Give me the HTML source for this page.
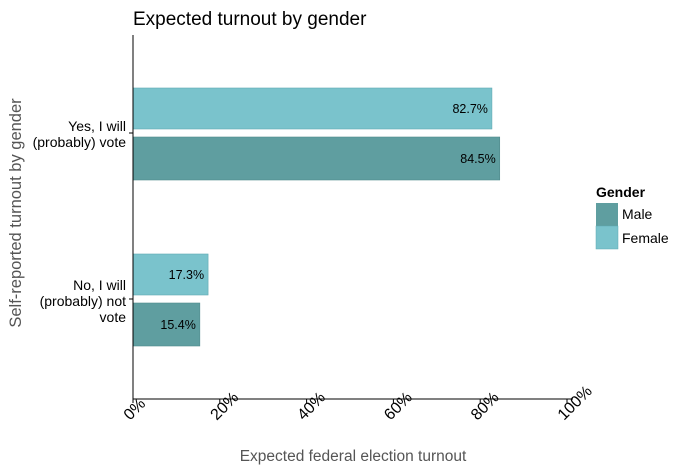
<!DOCTYPE html>
<html><head><meta charset="utf-8"><style>body{margin:0;background:#fff}svg{display:block;font-family:"Liberation Sans",Arial,sans-serif}</style></head>
<body>
<svg id="chart" width="686" height="471">
<text x="133" y="25" font-size="19" fill="#000">Expected turnout by gender</text>
<g id="plot"></g>
<text x="353" y="461" font-size="15.5" fill="#555" text-anchor="middle">Expected federal election turnout</text>
<text transform="translate(21,213) rotate(-90)" font-size="16.5" fill="#555" text-anchor="middle">Self-reported turnout by gender</text>
<g>
<text x="596" y="197" font-size="14" font-weight="bold">Gender</text>
<rect x="596" y="203" width="22" height="23" fill="#5f9ea0"/>
<text x="622" y="219" font-size="14">Male</text>
<rect x="596" y="226" width="22" height="23" fill="#7ac3cc" stroke="#5fa9b2" stroke-width="0.5"/>
<text x="622" y="243" font-size="14">Female</text>
</g>
</svg>
<script>
const categories = ["Yes, I will (probably) vote", "No, I will (probably) not vote"];
const femaleValues = [82.7, 17.3];
const maleValues = [84.5, 15.4];
const tickValues = [0, 20, 40, 60, 80, 100];
const tickLabels = ["0%", "20%", "40%", "60%", "80%", "100%"];

const NS = "http://www.w3.org/2000/svg";
const g = document.getElementById("plot");
const x0 = 133, xw = 434;
const xs = v => x0 + v / 100 * xw;
const catY = [133, 299];
function mk(tag, attrs, parent) { const e = document.createElementNS(NS, tag); for (const k in attrs) e.setAttribute(k, attrs[k]); (parent || g).appendChild(e); return e; }

categories.forEach((c, i) => {
  const yc = catY[i];
  const f = mk("rect", {x: x0, y: yc - 45, width: xs(femaleValues[i]) - x0, height: 41, fill: "#7ac3cc", stroke: "#5fa9b2", "stroke-width": 0.6});
  
  
  const m = mk("rect", {x: x0, y: yc + 4, width: xs(maleValues[i]) - x0, height: 43, fill: "#5f9ea0", stroke: "#4f8a8c", "stroke-width": 0.6});
  
  
  const ft = mk("text", {x: xs(femaleValues[i]) - 4, y: yc - 20, "font-size": 12.5, "text-anchor": "end"});
  ft.textContent = femaleValues[i].toFixed(1) + "%";
  
  
  const mt = mk("text", {x: xs(maleValues[i]) - 4, y: yc + 30, "font-size": 12.5, "text-anchor": "end"});
  mt.textContent = maleValues[i].toFixed(1) + "%";
  
  
  const tk = mk("line", {x1: x0 - 4, x2: x0, y1: yc, y2: yc, stroke: "#000"});
  
  
});
const lab = [["Yes, I will", "(probably) vote"], ["No, I will", "(probably) not", "vote"]];
lab.forEach((lines, i) => {
  const t = mk("text", {"font-size": 14, "text-anchor": "end"});
  
  
  const start = i === 0 ? 131 : 290;
  lines.forEach((l, j) => { const s = mk("tspan", {x: 126, y: start + j * 16}, t); s.textContent = l; });
});
mk("line", {x1: x0, x2: x0, y1: 35, y2: 399, stroke: "#000"});
mk("line", {x1: x0, x2: xs(100) + 6, y1: 399, y2: 399, stroke: "#000"});
tickValues.forEach((v, i) => {
  const tk = mk("line", {x1: xs(v), x2: xs(v), y1: 399, y2: 403, stroke: "#000"});
  
  
  const t = mk("text", {transform: `translate(${xs(v) - 3},${421}) rotate(-45)`, "font-size": 16, fill: "#000"});
  t.textContent = tickLabels[i];
  
  
});
</script>
</body></html>
